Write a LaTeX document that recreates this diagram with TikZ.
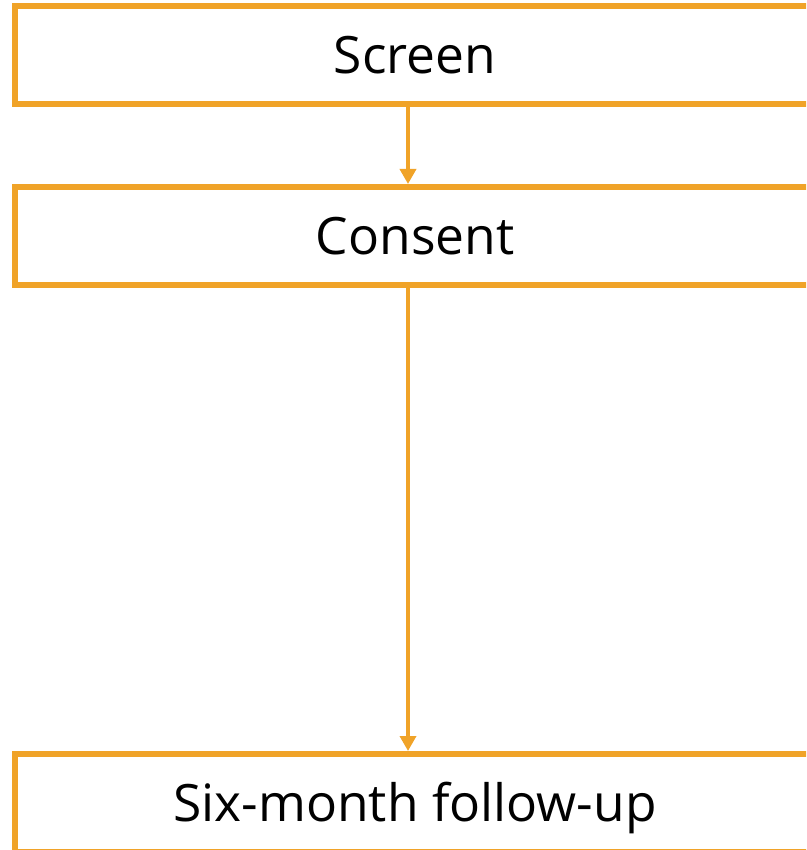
\documentclass[tikz,border=0pt]{standalone}
\usepackage{fontspec}
\setmainfont{Open Sans}
\usetikzlibrary{arrows.meta}
\definecolor{floworange}{HTML}{F0A328}
\begin{document}
\begin{tikzpicture}[x=1pt,y=1pt,
  stagebox/.style={draw=floworange, line width=6pt, fill=white, rectangle,
    minimum width=800pt, minimum height=98pt, inner sep=0pt,
    text height=37pt, text depth=0pt,
    font=\fontsize{51.5}{60}\selectfont},
  flowarrow/.style={draw=floworange, line width=3.5pt,
    -{Triangle[width=16pt,length=15pt]}}]
  \useasboundingbox (0,0) rectangle (806,-850);
  \clip (0,0) rectangle (806,-850);
  % stages of the study flow
  \node[stagebox] (screen)  at (415,-55)  {Screen};
  \node[stagebox] (consent) at (415,-236) {Consent};
  \node[stagebox] (followup) at (415,-803) {Six-month follow-up};
  % connectors run down a common vertical line
  \coordinate (lane) at (408,0);
  \draw[flowarrow] (screen.south -| lane) -- (consent.north -| lane);
  \draw[flowarrow] (consent.south -| lane) -- (followup.north -| lane);
\end{tikzpicture}
\end{document}
